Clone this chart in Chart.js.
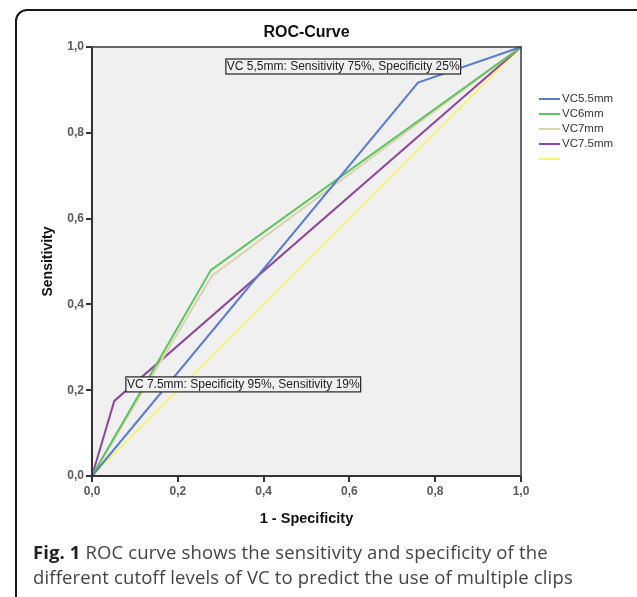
<!DOCTYPE html>
<html>
<head>
<meta charset="utf-8">
<script src="https://cdn.jsdelivr.net/npm/chart.js@4"></script>
<style>
  html, body { margin:0; padding:0; background:#fff; }
  #wrap { position:relative; width:637px; height:597px; overflow:hidden; }
  #frame { position:absolute; left:15px; top:9px; width:640px; height:640px; border:2px solid #1a1a1a; border-radius:12px; box-sizing:border-box; }
  canvas { position:absolute; left:0; top:0; }
  #caption { position:absolute; left:33px; top:539px; width:565px; font-family:"Open Sans", sans-serif; font-size:18.5px; line-height:25px; color:#444; letter-spacing:0.15px; }
  #caption b { color:#222; letter-spacing:0.1px; }
</style>
</head>
<body>
<div id="wrap">
  <div id="frame"></div>
  <canvas id="c" width="637" height="597"></canvas>
  <div id="caption"><b>Fig. 1</b> ROC curve shows the sensitivity and specificity of the different cutoff levels of VC to predict the use of multiple clips</div>
</div>
<script>
// ---- data ----
const seriesNames = ['VC5.5mm', 'VC6mm', 'VC7mm', 'VC7.5mm', ''];
const fpr_VC55 = [0, 0.76, 1];
const tpr_VC55 = [0, 0.917, 1];
const fpr_VC6 = [0, 0.277, 1];
const tpr_VC6 = [0, 0.48, 1];
const fpr_VC7 = [0, 0.28, 1];
const tpr_VC7 = [0, 0.467, 1];
const fpr_VC75 = [0, 0.052, 1];
const tpr_VC75 = [0, 0.175, 1];
const fpr_ref = [0, 1];
const tpr_ref = [0, 1];
const xTicks = [0, 0.2, 0.4, 0.6, 0.8, 1.0];
const yTicks = [0, 0.2, 0.4, 0.6, 0.8, 1.0];
const annotationTexts = ['VC 5,5mm: Sensitivity 75%, Specificity 25%', 'VC 7.5mm: Specificity 95%, Sensitivity 19%'];

const colors = ['#5b7cc9', '#5cc25b', '#d9d3ae', '#8e4697', '#f6f27a'];
const xs = [fpr_VC55, fpr_VC6, fpr_VC7, fpr_VC75, fpr_ref];
const ys = [tpr_VC55, tpr_VC6, tpr_VC7, tpr_VC75, tpr_ref];

const datasets = seriesNames.map((n, i) => ({
  label: n,
  data: xs[i].map((x, j) => ({x: x, y: ys[i][j]})),
  borderColor: colors[i],
  backgroundColor: colors[i],
  borderWidth: 2,
  pointRadius: 0,
  tension: 0,
  fill: false,
  clip: false
}));

const fmt = v => Number(v).toFixed(1).replace('.', ',');

const decor = {
  id: 'decor',
  beforeDraw(chart) {
    const {ctx, chartArea: a} = chart;
    ctx.save();
    ctx.fillStyle = '#f0f0f0';
    ctx.fillRect(a.left, a.top, a.right - a.left, a.bottom - a.top);
    ctx.restore();
  },
  afterDatasetsDraw(chart) {
    const {ctx, chartArea: a, scales} = chart;
    ctx.save();
    ctx.strokeStyle = '#3a3a3a';
    ctx.lineWidth = 1.5;
    ctx.strokeRect(a.left, a.top, a.right - a.left, a.bottom - a.top);
    ctx.lineWidth = 2;
    ctx.strokeStyle = '#333';
    ctx.beginPath();
    ctx.moveTo(a.left, a.top); ctx.lineTo(a.left, a.bottom); ctx.lineTo(a.right, a.bottom);
    ctx.stroke();

    // titles
    ctx.fillStyle = '#111';
    ctx.textAlign = 'center';
    ctx.textBaseline = 'middle';
    ctx.font = 'bold 16px "Liberation Sans", Arial, sans-serif';
    ctx.fillText('ROC-Curve', (a.left + a.right) / 2, 33);
    ctx.font = 'bold 14.5px "Liberation Sans", Arial, sans-serif';
    ctx.fillText('1 - Specificity', (a.left + a.right) / 2, 519);
    ctx.save();
    ctx.translate(48, (a.top + a.bottom) / 2);
    ctx.rotate(-Math.PI / 2);
    ctx.font = 'bold 14px "Liberation Sans", Arial, sans-serif';
    ctx.fillText('Sensitivity', 0, 0);
    ctx.restore();

    // annotation boxes (anchored in data coords)
    const anchors = [[0.312, 0.972], [0.079, 0.231]];
    ctx.font = '12px "Liberation Sans", Arial, sans-serif';
    ctx.textAlign = 'left';
    anchors.forEach((p, i) => {
      const x = scales.x.getPixelForValue(p[0]);
      const y = scales.y.getPixelForValue(p[1]);
      const w = ctx.measureText(annotationTexts[i]).width + 2;
      const h = 15;
      ctx.fillStyle = '#f0f0f0';
      ctx.fillRect(x, y, w, h);
      ctx.strokeStyle = '#222';
      ctx.lineWidth = 1.2;
      ctx.strokeRect(x, y, w, h);
      ctx.fillStyle = '#222';
      ctx.fillText(annotationTexts[i], x + 1, y + h / 2 + 0.5);
    });

    // legend
    ctx.font = '11.5px "Liberation Sans", Arial, sans-serif';
    ctx.textBaseline = 'middle';
    chart.data.datasets.forEach((d, i) => {
      const yy = 99 + i * 15;
      ctx.strokeStyle = d.borderColor;
      ctx.lineWidth = 2;
      ctx.beginPath();
      ctx.moveTo(539, yy);
      ctx.lineTo(560, yy);
      ctx.stroke();
      ctx.fillStyle = '#333';
      ctx.fillText(d.label, 562, yy);
    });
    ctx.restore();
  }
};

new Chart(document.getElementById('c'), {
  type: 'line',
  data: { datasets },
  options: {
    responsive: false,
    animation: false,
    layout: { padding: { left: 42, top: 47, right: 116, bottom: 91 } },
    plugins: { legend: { display: false }, tooltip: { enabled: false }, title: { display: false } },
    scales: {
      x: {
        type: 'linear', min: 0, max: 1,
        afterFit: s => { s.height = 30; },
        afterBuildTicks: s => { s.ticks = xTicks.map(v => ({value: v})); },
        ticks: { callback: fmt, color: '#5a5a5a', font: { family: '"Liberation Sans", Arial, sans-serif', size: 12, weight: 'bold' }, padding: 2, maxRotation: 0 },
        grid: { drawOnChartArea: false, drawTicks: true, tickLength: 6, color: '#333', lineWidth: 2 },
        border: { display: false }
      },
      y: {
        type: 'linear', min: 0, max: 1,
        afterFit: s => { s.width = 50; },
        afterBuildTicks: s => { s.ticks = yTicks.map(v => ({value: v})); },
        ticks: { callback: fmt, color: '#5a5a5a', font: { family: '"Liberation Sans", Arial, sans-serif', size: 12, weight: 'bold' }, padding: 2 },
        grid: { drawOnChartArea: false, drawTicks: true, tickLength: 6, color: '#333', lineWidth: 2 },
        border: { display: false }
      }
    }
  },
  plugins: [decor]
});
</script>
</body>
</html>
